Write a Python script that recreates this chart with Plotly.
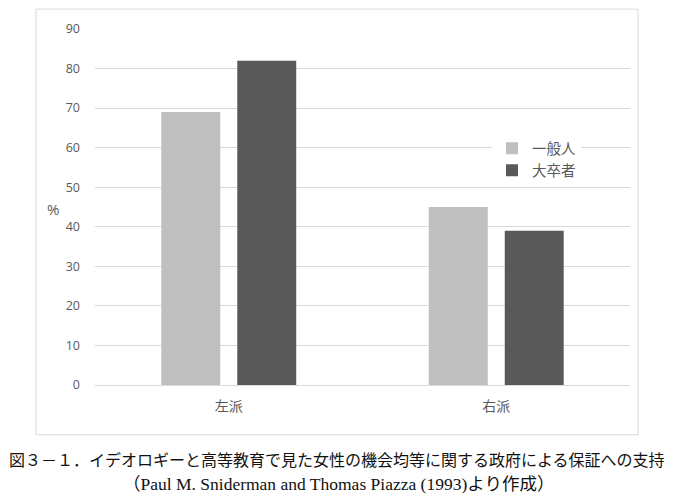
import plotly.graph_objects as go

# data
categories = ["左派", "右派"]
general_public = [69, 45]
college_grads = [82, 39]
series_names = ["一般人", "大卒者"]
y_ticks = [0, 10, 20, 30, 40, 50, 60, 70, 80, 90]

caption_1 = "図３－１．イデオロギーと高等教育で見た女性の機会均等に関する政府による保証への支持"
caption_2 = "（Paul M. Sniderman and Thomas Piazza (1993)より作成）"

jp_font = "Noto Sans CJK JP"
grid_col = "#d9d9d9"
text_col = "#595959"

# plot area in page pixels: x 95..630, y 27..385 (page has an 8px body margin)
def px_x(p):
    return (p - 95) / 535


def px_y(p):
    return (385 - p) / 358


fig = go.Figure()
fig.add_trace(go.Bar(x=categories, y=general_public, name=series_names[0],
                     marker=dict(color="#bfbfbf", line=dict(width=0))))
fig.add_trace(go.Bar(x=categories, y=college_grads, name=series_names[1],
                     marker=dict(color="#595959", line=dict(width=0))))

fig.update_layout(
    width=676, height=503,
    margin=dict(l=87, r=54, t=19, b=126),
    paper_bgcolor="white", plot_bgcolor="white",
    barmode="group", bargap=0.432, bargroupgap=0.224,
    font=dict(family=jp_font, color=text_col, size=13),
    showlegend=True,
    legend=dict(x=px_x(492), y=px_y(131), xanchor="left", yanchor="top",
                bgcolor="white", font=dict(size=14.5, color=text_col),
                tracegroupgap=2),
    xaxis=dict(showgrid=False, showline=False, ticks="", ticklabelstandoff=11,
               tickfont=dict(size=14, color=text_col)),
    yaxis=dict(range=[0, 90], tickvals=y_ticks, showgrid=True, gridcolor=grid_col,
               gridwidth=1, zeroline=True, zerolinecolor=grid_col, zerolinewidth=1,
               showline=False, ticks="", ticklabelstandoff=14,
               tickfont=dict(family="Open Sans", size=12.5, color=text_col)),
)

# y axis label "%"
fig.add_annotation(x=px_x(53), y=px_y(208), xref="paper", yref="paper", text="%",
                   showarrow=False, xanchor="center", yanchor="middle",
                   font=dict(family="Open Sans", size=15, color=text_col))

# outer chart border
fig.add_shape(type="rect", xref="paper", yref="paper",
              x0=px_x(36), x1=px_x(638), y0=px_y(435), y1=px_y(7),
              line=dict(color=grid_col, width=1), layer="below")

# caption
fig.add_annotation(x=px_x(337), y=px_y(460), xref="paper", yref="paper",
                   xanchor="center", yanchor="middle", showarrow=False,
                   text=caption_1,
                   font=dict(family="Liberation Serif, " + jp_font, size=16, color="#111111"))
fig.add_annotation(x=px_x(338), y=px_y(485), xref="paper", yref="paper",
                   xanchor="center", yanchor="middle", showarrow=False,
                   text=caption_2,
                   font=dict(family="Liberation Serif, " + jp_font, size=17.5, color="#111111"))

fig.write_html("out.html")
